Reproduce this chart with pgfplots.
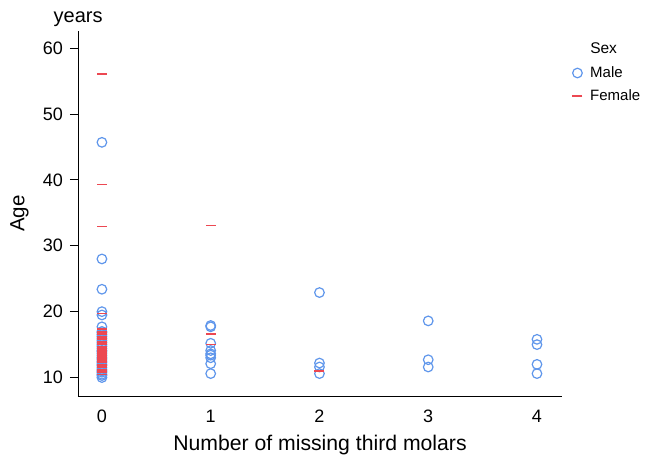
\documentclass[border=0pt]{standalone}
\usepackage{fontspec}
\setmainfont{Liberation Sans}
\usepackage{pgfplots}
\pgfplotsset{compat=1.18}
\definecolor{male}{RGB}{95,150,235}
\definecolor{female}{RGB}{236,72,82}
\begin{document}
\fontsize{18}{20}\selectfont
\begin{tikzpicture}
\begin{axis}[
	at={(0,0)}, anchor=south west,
	scale only axis,
	width=484pt, height=365pt,
	xmin=-0.22, xmax=4.23,
	ymin=7.2, ymax=62.6,
	axis x line*=bottom, axis y line*=left,
	axis line style={black, line width=0.9pt},
	xtick={0,1,2,3,4}, ytick={10,20,30,40,50,60},
	xtick style={draw=none},
	ytick style={black, line width=0.9pt},
	tick align=outside,
	major tick length=8pt,
	tick label style={font=\fontsize{18}{20}\selectfont},
	/pgf/number format/assume math mode=true,
	yticklabel style={xshift=-1pt},
	xlabel={Number of missing third molars},
	xlabel style={font=\fontsize{21.2}{23}\selectfont, at={(rel axis cs:0.5,0)}, anchor=base, yshift=-55pt},
	ylabel={Age},
	ylabel style={font=\fontsize{20.5}{22}\selectfont, yshift=2pt},
	clip=false,
	legend style={at={(rel axis cs:1.015,0.915)}, anchor=north west, draw=none, fill=none,
		font=\fontsize{15}{17}\selectfont, row sep=5.5pt,
		legend cell align=left},
	legend image code/.code={\draw[#1] plot coordinates {(0cm,0cm)}; \path (10pt,0pt);},
]
\addplot[only marks, mark=o, mark size=4.8pt, male, line width=1.2pt] coordinates {
	(0,45.7) (0,28.0) (0,23.4) (0,20.0) (0,19.5) (0,17.7)
	(0,10.0) (0,10.3) (0,10.5) (0,10.8) (0,11.0) (0,11.2) (0,11.5) (0,11.8) (0,12.0)
	(0,12.3) (0,12.5) (0,12.8) (0,13.0) (0,13.3) (0,13.6) (0,13.9) (0,14.1) (0,14.4)
	(0,14.7) (0,15.0) (0,15.3) (0,15.6) (0,15.9) (0,16.2) (0,16.5) (0,16.8) (0,17.0)
	(1,17.9) (1,17.7) (1,15.2) (1,14.1) (1,13.6) (1,13.4) (1,13.0) (1,12.1) (1,10.6)
	(2,22.9) (2,12.2) (2,11.6) (2,10.6)
	(3,18.6) (3,12.7) (3,11.6)
	(4,15.8) (4,15.0) (4,12.0) (4,10.6)
};
\addlegendentry{Male}
\addplot[only marks, mark=-, mark size=5pt, female, line width=1.5pt] coordinates {
	(0,56.1) (0,39.3) (0,32.9) (0,19.7) (0,17.4)
	(0,10.5) (0,10.75) (0,11.0) (0,11.25) (0,11.5) (0,11.75) (0,12.0) (0,12.25) (0,12.5)
	(0,12.75) (0,13.0) (0,13.25) (0,13.5) (0,13.75) (0,14.0) (0,14.25) (0,14.5) (0,14.75)
	(0,15.0) (0,15.25) (0,15.5) (0,15.75) (0,16.0) (0,16.25) (0,16.5) (0,16.75) (0,17.0)
	(1,33.1) (1,16.6) (1,15.0)
	(2,11.0)
};
\addlegendentry{Female}
\node[anchor=base west, font=\fontsize{20}{22}\selectfont] at (rel axis cs:-0.063,1.024) {years};
\node[anchor=center, font=\fontsize{15.5}{17}\selectfont] at (rel axis cs:1.086,0.953) {Sex};
\end{axis}
\pgfresetboundingbox
\path (-78pt,-66pt) rectangle (568pt,396pt);
\end{tikzpicture}
\end{document}
